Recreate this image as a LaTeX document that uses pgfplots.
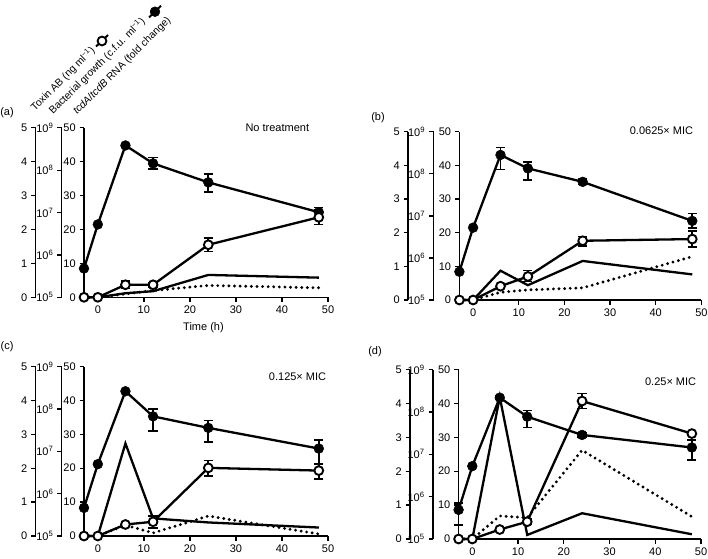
\documentclass[border=0pt]{standalone}
\usepackage{pgfplots}
\usepackage{pgfplotstable}
\pgfplotsset{compat=1.18}
\usepackage{fontspec}
\setmainfont{Liberation Sans}

% columns: x, F (filled circles), Fp/Fm errors, O (open circles), Op/Om errors, S (solid line), D (dotted line)
\pgfplotstableread{
x  F    Fp  Fm  O    Op  Om  S    D
-3 8.5  0   0   0    0   0   0    0
0  21.5 0   0   0    0   0   0    0
6  44.8 0.4 0.4 3.7  1.1 1.1 1.2  1.0
12 39.5 1.7 1.7 3.7  0.6 0.6 1.8  2.0
24 33.9 2.4 2.8 15.5 2.0 2.0 6.6  3.5
48 25.1 1.4 1.4 23.6 2.1 2.1 5.8  2.8
}\tabA
\pgfplotstableread{
x  F    Fp  Fm  O    Op  Om  S    D
-3 8.4  0   0   0    0   0   0    0
0  21.5 0   0   0    0   0   0    0
6  43.1 2.2 4.3 4.1  0.3 0.3 8.7  2.3
12 39.1 1.9 3.5 7.0  1.8 1.5 4.4  3.0
24 35.1 0.8 0.8 17.6 1.3 1.5 11.6 3.6
48 23.5 2.2 2.2 18.1 2.4 2.4 7.6  12.9
}\tabB
\pgfplotstableread{
x  F    Fp  Fm  O    Op  Om  S    D
-3 8.3  0   0   0    0   0   0    0
0  21.2 0   0   0    0   0   0    0
6  42.7 0.3 0.3 3.4  0.3 0.3 27.3 3.2
12 35.3 2.2 4.3 4.2  1.8 1.8 5.2  0.9
24 31.9 2.2 4.2 20.1 2.2 2.5 4.0  5.9
48 25.8 2.6 4.4 19.3 2.0 2.5 2.5  0.6
}\tabC
\pgfplotstableread{
x  F    Fp  Fm  O    Op  Om  S    D
-3 8.6  2.0 4.5 0    0   0   0    0
0  21.5 0   0   0    0   0   0    0
6  41.7 0.5 0.5 2.8  0.3 0.3 41.9 6.8
12 36.1 1.8 3.2 5.1  0.8 0.8 1.2  6.3
24 30.7 0.6 0.6 40.7 2.2 2.2 7.6  26.2
48 27.0 2.2 3.7 31.1 0.5 0.5 1.4  6.6
}\tabD

\pgfplotsset{
  base/.style={
    scale only axis, anchor=south west,
    /pgf/number format/assume math mode=true,
    tick label style={font=\fontsize{11}{13}\selectfont},
    axis line style={line width=1.5pt},
    tick style={black, line width=1.3pt},
    major tick length=4.5pt,
    tick align=outside,
    height=169.5pt,
  },
  mainax/.style={base, width=244pt, xmin=-3, xmax=50, ymin=0, ymax=50,
    axis x line*=bottom, axis y line*=left,
    xtick={0,10,...,50}, ytick={0,10,...,50}, clip=false},
  toxax/.style={base, width=10pt, xmin=0, xmax=1, ymin=0, ymax=5,
    hide x axis, axis y line*=left, ytick={0,...,5}},
  bacax/.style={base, width=10pt, xmin=0, xmax=1, ymin=0, ymax=4,
    hide x axis, axis y line*=left, ytick={0,...,4},
    yticklabels={10\textsuperscript{5},10\textsuperscript{6},10\textsuperscript{7},10\textsuperscript{8},10\textsuperscript{9}}},
  errF/.style={only marks, mark=none, forget plot,
    error bars/.cd, y dir=both, y explicit,
    error bar style={black, solid, line width=1.7pt},
    error mark options={black, line width=1.7pt, mark size=4.6pt, rotate=90}},
  Fst/.style={black, line width=2.3pt, mark=*, mark size=4.9pt, mark options={solid, fill=black, line width=0.5pt}},
  Ost/.style={black, line width=2.3pt, mark=*, mark size=4.4pt, mark options={solid, fill=white, line width=1.9pt}},
  Sst/.style={black, line width=2.3pt, mark=none},
  Dst/.style={black, line width=3.2pt, mark=none, line cap=round, dash pattern=on 0pt off 5.6pt},
}

\newcommand{\panel}[1]{%
  \addplot[Sst] table[x=x, y=S] {#1};
  \addplot[Dst] table[x=x, y=D] {#1};
  \addplot[errF] table[x=x, y=F, y error plus=Fp, y error minus=Fm] {#1};
  \addplot[Fst] table[x=x, y=F] {#1};
  \addplot[errF] table[x=x, y=O, y error plus=Op, y error minus=Om] {#1};
  \addplot[Ost] table[x=x, y=O] {#1};
}

\begin{document}
\fontsize{11}{13}\selectfont
\begin{tikzpicture}[x=1pt, y=1pt]
% ---- panel (a)
\begin{axis}[toxax, at={(35.5pt,260.7pt)}]\end{axis}
\begin{axis}[bacax, at={(61.7pt,260.7pt)}]\end{axis}
\begin{axis}[mainax, at={(84pt,260.7pt)}]
\panel{\tabA}
\end{axis}
% ---- panel (b)
\begin{axis}[toxax, at={(408pt,258pt)}, height=168.3pt]\end{axis}
\begin{axis}[bacax, at={(433.5pt,258pt)}, height=168.3pt]\end{axis}
\begin{axis}[mainax, at={(459.4pt,258pt)}, width=242pt, height=168.3pt]
\panel{\tabB}
\end{axis}
% ---- panel (c)
\begin{axis}[toxax, at={(35.5pt,22pt)}]\end{axis}
\begin{axis}[bacax, at={(61.7pt,22pt)}]\end{axis}
\begin{axis}[mainax, at={(84pt,22pt)}]
\panel{\tabC}
\end{axis}
% ---- panel (d)
\begin{axis}[toxax, at={(410pt,19pt)}]\end{axis}
\begin{axis}[bacax, at={(433pt,19pt)}]\end{axis}
\begin{axis}[mainax, at={(458.6pt,19pt)}, width=242.4pt]
\panel{\tabD}
\end{axis}
% ---- legend symbols (overlay axis in picture coordinates)
\begin{axis}[scale only axis, anchor=south west, at={(0pt,0pt)}, width=708pt, height=558pt,
  xmin=0, xmax=708, ymin=0, ymax=558, hide axis, clip=false]
\addplot[Ost, line width=2pt, mark indices={2}] coordinates {(96,511.5) (102,517) (108,523)};
\addplot[Fst, line width=2pt, mark indices={2}] coordinates {(149,540.5) (155,546.3) (161,552.3)};
\end{axis}
% ---- texts
\begin{scope}[font=\fontsize{10.4}{12}\selectfont]
\node[rotate=45, anchor=base west, inner sep=0pt] at (35,446.5) {Toxin AB (ng ml\textsuperscript{−1})};
\node[rotate=45, anchor=base west, inner sep=0pt] at (53,443) {Bacterial growth (c.f.u. ml\textsuperscript{−1})};
\node[rotate=45, anchor=base west, inner sep=0pt] at (77,443) {\textit{tcdA}/\textit{tcdB} RNA (fold change)};
\end{scope}
\node at (7,445) {(a)};
\node at (378,440.5) {(b)};
\node at (7,211) {(c)};
\node at (375,206) {(d)};
\node[anchor=east] at (313,430.5) {No treatment};
\node[anchor=east] at (697,427) {0.0625× MIC};
\node[anchor=east] at (330,181) {0.125× MIC};
\node[anchor=east] at (700,176) {0.25× MIC};
\node at (203.5,230) {Time (h)};
\pgfresetboundingbox
\path (0,0) rectangle (708,558);
\end{tikzpicture}
\end{document}
